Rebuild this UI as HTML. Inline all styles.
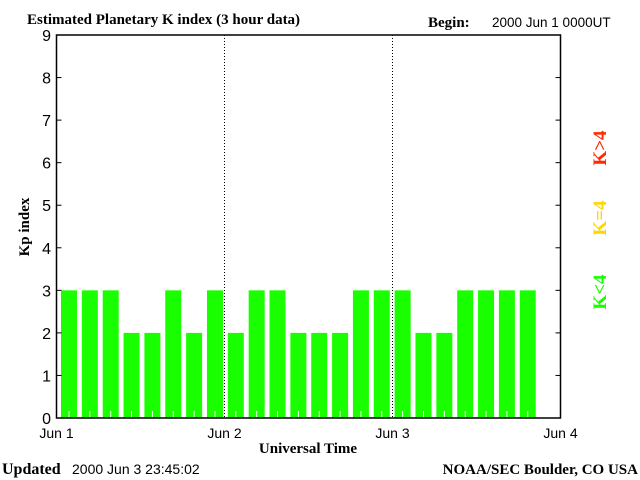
<!DOCTYPE html>
<html><head><meta charset="utf-8"><style>
body{margin:0;background:#fff;}
svg{display:block;}
</style></head><body>
<svg id="chart" width="640" height="480" xmlns="http://www.w3.org/2000/svg">
<text x="27" y="24" font-family="Liberation Serif, serif" font-weight="bold" font-size="15">Estimated Planetary K index (3 hour data)</text>
<text x="428" y="27" font-family="Liberation Serif, serif" font-weight="bold" font-size="15">Begin:</text>
<text x="492" y="27" font-family="Liberation Sans, sans-serif" font-size="13.5">2000 Jun 1 0000UT</text>
<text x="29" y="227" font-family="Liberation Serif, serif" font-weight="bold" font-size="15" text-anchor="middle" transform="rotate(-90 29 227)">Kp index</text>
<text x="308" y="453" font-family="Liberation Serif, serif" font-weight="bold" font-size="15" text-anchor="middle">Universal Time</text>
<text x="2" y="474" font-family="Liberation Serif, serif" font-weight="bold" font-size="16">Updated</text>
<text x="72" y="474" font-family="Liberation Sans, sans-serif" font-size="14">2000 Jun  3 23:45:02</text>
<text x="638" y="474" font-family="Liberation Serif, serif" font-weight="bold" font-size="15" text-anchor="end">NOAA/SEC Boulder, CO USA</text>
<text x="606" y="148" font-family="Liberation Serif, serif" font-weight="bold" font-size="19" fill="#ff2a00" text-anchor="middle" transform="rotate(-90 606 148)">K&gt;4</text>
<text x="606" y="218" font-family="Liberation Serif, serif" font-weight="bold" font-size="19" fill="#ffd700" text-anchor="middle" transform="rotate(-90 606 218)">K=4</text>
<text x="606" y="292" font-family="Liberation Serif, serif" font-weight="bold" font-size="19" fill="#1aff00" text-anchor="middle" transform="rotate(-90 606 292)">K&lt;4</text>
<g id="plot"></g>
</svg>
<script>
const kpValues=[3,3,3,2,2,3,2,3, 2,3,3,2,2,2,3,3, 3,2,2,3,3,3,3];
const yTicks=[0,1,2,3,4,5,6,7,8,9];
const dayLabels=["Jun 1","Jun 2","Jun 3","Jun 4"];
const L=56.5,R=560.5,T=35,B=418;
const slots=24;
const sx=i=>L+(R-L)*i/slots;
const bx=i=>L+4.5+(R-L)*i/24.17;
const sy=v=>B-(B-T)*v/9;
const NS="http://www.w3.org/2000/svg";
const g=document.getElementById('plot');
function mk(t,a){const e=document.createElementNS(NS,t);for(const k in a)e.setAttribute(k,a[k]);g.appendChild(e);return e;}
kpValues.forEach((v,i)=>{
  const c=v>4?'#ff2a00':(v==4?'#ffd700':'#1aff00');
  const r=mk('rect',{x:bx(i),y:sy(v),width:16,height:B-sy(v),fill:c});
  
  
  const w=mk('line',{x1:bx(i)+8,x2:bx(i)+8,y1:B-7,y2:B,stroke:'#fff','stroke-width':1});
  
  
});
[1,2].forEach(d=>{
  const l=mk('line',{x1:sx(d*8),x2:sx(d*8),y1:T,y2:B,stroke:'#000','stroke-width':1,'stroke-dasharray':'1,2'});
  
  
});
const f=mk('rect',{x:L,y:T,width:R-L,height:B-T,fill:'none',stroke:'#000','stroke-width':1.5});


yTicks.forEach(v=>{
  const y=sy(v);
  mk('line',{x1:L,x2:L+5,y1:y,y2:y,stroke:'#000'});
  mk('line',{x1:R-5,x2:R,y1:y,y2:y,stroke:'#000'});
  const t=mk('text',{x:51,y:y+6,'text-anchor':'end','font-family':'Liberation Sans, sans-serif','font-size':16});
  t.textContent=v;
  
  
});
dayLabels.forEach((s,d)=>{
  const t=mk('text',{x:sx(d*8),y:438,'text-anchor':'middle','font-family':'Liberation Sans, sans-serif','font-size':14});
  t.textContent=s;
  
  
});
</script>
</body></html>
